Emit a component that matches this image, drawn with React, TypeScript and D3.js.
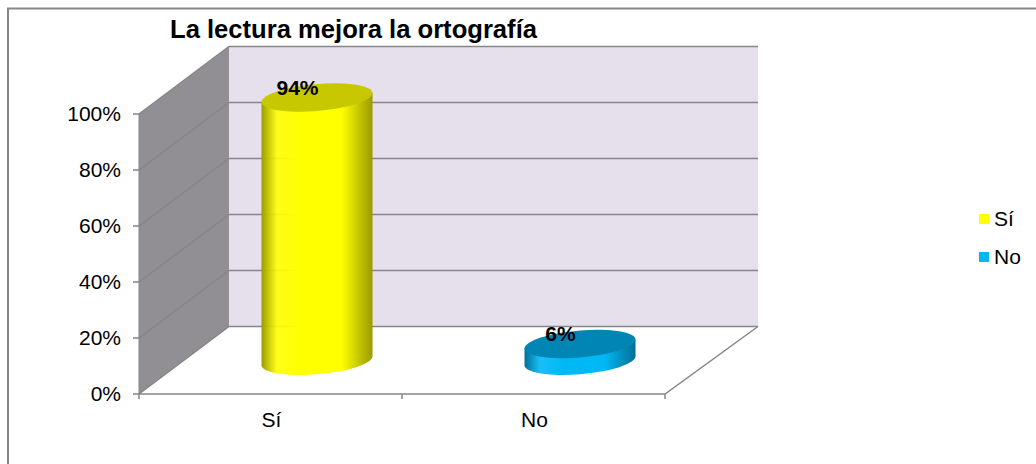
import React from "react";
import * as d3 from "d3";

const categories = ["Sí", "No"];
const values = [94, 6];
const colors = ["#ffff00", "#00b8f5"];
const topColors = ["#c8c800", "#0085b5"];
const edgeColors = ["#9a9a00", "#006e96"];
const yTicks = [0, 20, 40, 60, 80, 100];
const title = "La lectura mejora la ortografía";

const W = 1036, H = 464;
const FONT = "'Liberation Sans', Arial, sans-serif";
const front = { x0: 139, x1: 665, y0: 394, y1: 114 };
const depth = { dx: 91, dy: -67.5 };
const y = d3.scaleLinear().domain([0, 100]).range([front.y0, front.y1]);
const x = d3.scaleBand().domain(categories).range([front.x0, front.x1]);
const grey = "#868686";

const poly = (p: number[][]) => d3.line()(p as [number, number][]) + "Z";

export default function App() {
  const bw = 55.5;
  const ry = 13.5;
  const skew = 4.6;
  const backX = front.x0 + depth.dx - 1;
  const backR = front.x1 + depth.dx + 2;
  return (
    <svg width={W} height={H} viewBox={`0 0 ${W} ${H}`}
      style={{ position: "fixed", left: 0, top: 0, display: "block", background: "#fff" }} fontFamily={FONT}>
      <defs>
        {categories.map((c, i) => (
          <linearGradient key={c} id={`body${i}`} x1="0" x2="1" y1="0" y2="0">
            <stop offset="0" stopColor={edgeColors[i]} />
            <stop offset="0.14" stopColor={colors[i]} stopOpacity={0.9} />
            <stop offset="0.35" stopColor={colors[i]} />
            <stop offset="0.72" stopColor={colors[i]} />
            <stop offset="1" stopColor={edgeColors[i]} />
          </linearGradient>
        ))}
      </defs>
      <path d={`M8,${H}V8.5H${W}`} fill="none" stroke={grey} strokeWidth={2} />

      {/* back wall */}
      <rect x={backX} y={y(100) + depth.dy} width={backR - backX}
        height={front.y0 - front.y1} fill="#e6e0ec" />
      {/* side wall */}
      <path d={poly([
        [front.x0, y(0)], [front.x0, y(100)],
        [backX, y(100) + depth.dy], [backX, y(0) + depth.dy],
      ])} fill="#918e94" />
      {/* gridlines */}
      {yTicks.map((t) => (
        <path key={t} fill="none" stroke={grey} strokeWidth={1.5}
          d={d3.line()([
            [front.x0, y(t)],
            [backX, y(t) + depth.dy],
            [backR, y(t) + depth.dy],
          ]) as string} />
      ))}
      {/* floor edges */}
      <path fill="none" stroke={grey} strokeWidth={1.5}
        d={d3.line()([
          [front.x0, y(0)], [front.x1, y(0)], [backR, y(0) + depth.dy],
        ]) as string} />
      {/* axis ticks */}
      {yTicks.map((t) => (
        <line key={t} x1={front.x0 - 6} x2={front.x0} y1={y(t)} y2={y(t)} stroke={grey} strokeWidth={1.5} />
      ))}
      {[front.x0, (front.x0 + front.x1) / 2, front.x1].map((v) => (
        <line key={v} x1={v} x2={v} y1={y(0)} y2={y(0) + 5} stroke={grey} strokeWidth={1.5} />
      ))}
      <line x1={front.x0} x2={front.x0} y1={y(0)} y2={y(100)} stroke={grey} strokeWidth={1} />

      {/* cylinders */}
      {categories.map((c, i) => {
        const cx = (x(c) as number) + x.bandwidth() / 2 + depth.dx / 2 + 1;
        const base = y(0) + depth.dy / 2 + 0.5;
        const h = y(0) - y(values[i]);
        const top = base - h;
        const tr = `translate(${cx},${base}) skewY(${-skew}) translate(${-cx},${-base})`;
        return (
          <g key={c}>
            <g transform={tr}>
              <path fill={`url(#body${i})`}
                d={`M${cx - bw},${top}V${base}A${bw},${ry} 0 0 0 ${cx + bw},${base}V${top}Z`} />
              <ellipse cx={cx} cy={top} rx={bw} ry={ry} fill={topColors[i]} />
            </g>
            <text x={cx - 19.5} y={top - 3} textAnchor="middle"
              fontSize={21} fontWeight={700} fill="#000">{values[i]}%</text>
          </g>
        );
      })}

      {/* axis labels */}
      {yTicks.map((t) => (
        <text key={t} x={121} y={y(t) + 7} textAnchor="end" fontSize={21} fill="#000">{t}%</text>
      ))}
      {categories.map((c) => (
        <text key={c} x={(x(c) as number) + x.bandwidth() / 2 + 1} y={427} textAnchor="middle" fontSize={21} fill="#000">{c}</text>
      ))}
      <text x={353.5} y={38} textAnchor="middle" fontSize={25.6} fontWeight={700} fill="#000">{title}</text>

      {/* legend */}
      {categories.map((c, i) => (
        <g key={c}>
          <rect x={979} y={214 + i * 38} width={10} height={10} fill={colors[i]} />
          <text x={994} y={226 + i * 38} fontSize={21} fill="#000">{c}</text>
        </g>
      ))}
    </svg>
  );
}
